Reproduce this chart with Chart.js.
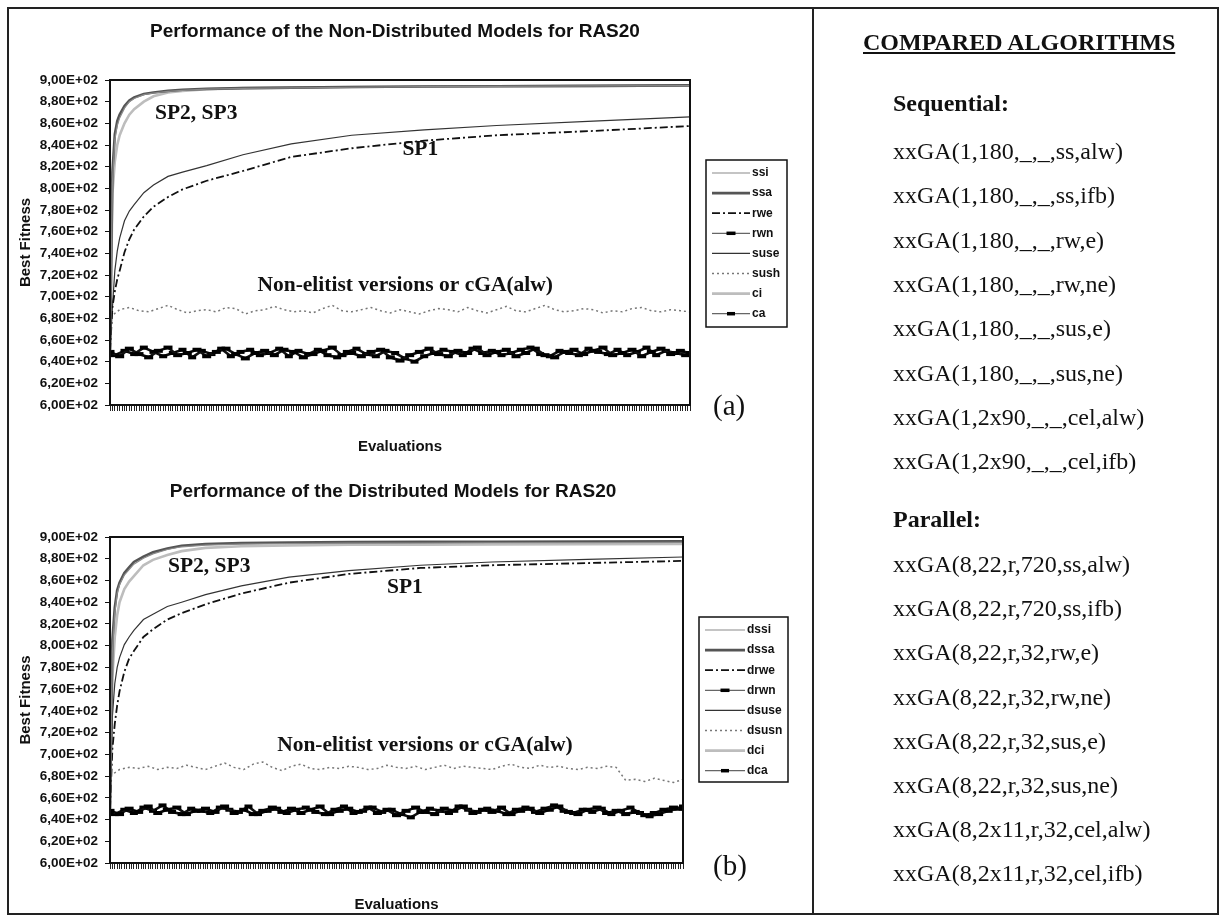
<!DOCTYPE html>
<html>
<head>
<meta charset="utf-8">
<title>RAS20 performance</title>
<script src="https://cdn.jsdelivr.net/npm/chart.js@4.4.1/dist/chart.umd.min.js"></script>
<style>
  html, body { margin: 0; padding: 0; background: #fff; }
  #page { position: relative; width: 1225px; height: 920px; overflow: hidden; }
  canvas { position: absolute; left: 0; }
  #chartA { top: 0; }
  #chartB { top: 460px; }
  #frame { position: absolute; left: 7px; top: 7px; width: 1212px; height: 908px; border: 2px solid #222; box-sizing: border-box; }
  #divider { position: absolute; left: 812px; top: 7px; width: 2px; height: 908px; background: #222; }
  .side { position: absolute; left: 893px; font-family: "Liberation Serif", "Times New Roman", serif; font-size: 24px; line-height: 24px; color: #111; white-space: nowrap; }
  .side.head { left: 863px; font-weight: bold; text-decoration: underline; }
  .side.group { font-weight: bold; }
</style>
</head>
<body>
<div id="page">
  <canvas id="chartA" width="812" height="460"></canvas>
  <canvas id="chartB" width="812" height="460"></canvas>
  <div id="frame"></div>
  <div id="divider"></div>
  <div id="side"></div>
</div>
<script>
// evaluation positions (x index) of the sampled points
const evalSmooth = [0, 1, 2, 3, 4, 6, 8, 10, 14, 18, 24, 30, 40, 55, 75, 100, 130, 160, 200, 240];
const evalNoisy = [0, 4, 8, 12, 16, 20, 24, 28, 32, 36, 40, 44, 48, 52, 56, 60, 64, 68, 72, 76,
  80, 84, 88, 92, 96, 100, 104, 108, 112, 116, 120, 124, 128, 132, 136, 140, 144, 148, 152, 156,
  160, 164, 168, 172, 176, 180, 184, 188, 192, 196, 200, 204, 208, 212, 216, 220, 224, 228, 232, 236, 240];
// cellular runs were sampled in between
const evalShift = [2, 6, 10, 14, 18, 22, 26, 30, 34, 38, 42, 46, 50, 54, 58, 62, 66, 70, 74, 78,
  82, 86, 90, 94, 98, 102, 106, 110, 114, 118, 122, 126, 130, 134, 138, 142, 146, 150, 154, 158,
  162, 166, 170, 174, 178, 182, 186, 190, 194, 198, 202, 206, 210, 214, 218, 222, 226, 230, 234, 238, 240];

// (a) non-distributed models
const ssi  = [650, 805, 845, 858, 865, 874, 880, 883, 886.5, 888, 889.5, 890.5, 891.5, 892.3, 892.8, 893.3, 893.8, 894.1, 894.5, 894.8];
const ssa  = [650, 815, 850, 862, 868, 876, 881, 884, 887, 888.5, 890, 891, 891.8, 892.5, 893, 893.5, 894, 894.3, 894.6, 895];
const rwe  = [650, 690, 705, 716, 724, 741, 753, 762, 774, 783, 792, 799, 807, 816, 829, 837, 844, 849, 853, 857.5];
const suse = [650, 690, 724, 742, 754, 770, 779, 785, 796, 803, 811, 815, 821, 831, 841, 849, 854, 858, 862, 866];
const ci   = [650, 795, 825, 840, 849, 860, 868, 873, 880, 885, 888.5, 890, 891.5, 892.5, 893, 893.5, 894, 894.3, 894.6, 895];
const rwn = [649, 645, 652, 647, 644, 650, 653, 646, 648, 651,
  645, 649, 652, 647, 643, 648, 650, 646, 651, 649,
  644, 647, 650, 653, 646, 648, 645, 649, 651, 644,
  641, 646, 649, 652, 647, 645, 650, 648, 653, 646,
  649, 651, 645, 648, 652, 646, 644, 649, 651, 647,
  650, 653, 646, 648, 651, 645, 649, 652, 647, 650, 648];
const ca = [646, 650, 647, 653, 649, 645, 648, 651, 644, 650,
  647, 652, 645, 649, 651, 646, 648, 652, 645, 650,
  647, 651, 646, 644, 649, 652, 647, 645, 650, 648,
  643, 640, 645, 648, 651, 649, 646, 652, 648, 650,
  646, 648, 651, 653, 647, 645, 650, 648, 646, 652,
  649, 647, 651, 646, 649, 653, 646, 650, 648, 646, 647];
const sush = [681, 688, 690, 687, 686, 689, 692, 688, 685, 687,
  688, 686, 690, 689, 684, 687, 688, 691, 688, 686,
  687, 685, 689, 692, 687, 686, 688, 690, 687, 685,
  688, 686, 684, 687, 689, 688, 686, 690, 687, 685,
  688, 691, 687, 686, 689, 692, 688, 686, 687, 689,
  688, 685, 687, 686, 689, 690, 687, 686, 688, 687, 686];

// (b) distributed models
const dssi  = [650, 795, 830, 848, 856, 865, 870, 875, 880.5, 884.5, 888.5, 891, 892.5, 893.5, 894, 894.3, 894.5, 894.7, 894.9, 895];
const dssa  = [650, 805, 835, 851, 858, 867, 872, 877, 882, 886, 889.5, 892, 893.5, 894.5, 895, 895.3, 895.5, 895.6, 895.8, 896];
const drwe  = [650, 705, 728, 745, 758, 776, 788, 795, 808, 815, 824, 830, 838, 848, 858, 866, 871.5, 874, 876, 878];
const dsuse = [650, 735, 765, 780, 789, 801, 808, 814, 824, 829, 836, 840, 847, 855, 863, 869, 874, 877, 879.5, 881.6];
const dci   = [650, 770, 808, 828, 840, 852, 859, 864, 874, 879, 883.5, 887, 890, 891.5, 892.3, 892.8, 893, 893.2, 893.4, 893.5];
const drwn = [648, 645, 650, 647, 652, 646, 649, 651, 645, 648,
  650, 647, 652, 646, 649, 645, 648, 651, 647, 650,
  646, 649, 652, 645, 648, 650, 647, 651, 646, 649,
  644, 648, 651, 647, 645, 650, 648, 652, 646, 649,
  647, 651, 645, 648, 650, 646, 649, 652, 647, 645,
  649, 651, 646, 648, 645, 647, 644, 646, 649, 651, 650];
const dca = [645, 649, 646, 651, 648, 653, 647, 645, 650, 648,
  646, 651, 649, 647, 652, 645, 648, 650, 646, 649,
  651, 647, 645, 649, 652, 646, 648, 651, 647, 649,
  645, 642, 647, 650, 648, 646, 652, 649, 647, 650,
  648, 645, 649, 651, 647, 650, 653, 648, 646, 649,
  647, 650, 645, 648, 651, 646, 643, 645, 648, 650, 652];
const dsusn = [680, 686, 688, 687, 689, 686, 688, 687, 690, 688,
  686, 689, 692, 688, 686, 691, 693, 688, 685, 689,
  691, 687, 686, 688, 687, 689, 688, 686, 687, 690,
  688, 687, 689, 686, 688, 690, 687, 689, 688, 687,
  686, 689, 691, 688, 687, 690, 688, 689, 687, 686,
  688, 687, 689, 688, 676, 677, 675, 678, 676, 674, 677];

const seqAlgs = ["xxGA(1,180,_,_,ss,alw)", "xxGA(1,180,_,_,ss,ifb)", "xxGA(1,180,_,_,rw,e)", "xxGA(1,180,_,_,rw,ne)",
  "xxGA(1,180,_,_,sus,e)", "xxGA(1,180,_,_,sus,ne)", "xxGA(1,2x90,_,_,cel,alw)", "xxGA(1,2x90,_,_,cel,ifb)"];
const parAlgs = ["xxGA(8,22,r,720,ss,alw)", "xxGA(8,22,r,720,ss,ifb)", "xxGA(8,22,r,32,rw,e)", "xxGA(8,22,r,32,rw,ne)",
  "xxGA(8,22,r,32,sus,e)", "xxGA(8,22,r,32,sus,ne)", "xxGA(8,2x11,r,32,cel,alw)", "xxGA(8,2x11,r,32,cel,ifb)"];

const SANS = '"Liberation Sans", Arial, sans-serif';
const SERIF = '"Liberation Serif", "Times New Roman", serif';

// line looks shared by both panels
const looks = {
  si:   { borderColor: "#8a8a8a", borderWidth: 1.2 },
  sa:   { borderColor: "#555", borderWidth: 2.6 },
  rwe:  { borderColor: "#111", borderWidth: 1.8, borderDash: [8, 3, 2, 3] },
  rwn:  { borderColor: "#111", borderWidth: 2.6, pointStyle: "line", pointRadius: 4.5, pointBorderWidth: 4, pointBorderColor: "#000" },
  suse: { borderColor: "#333", borderWidth: 1.2 },
  susn: { borderColor: "#777", borderWidth: 1.5, borderDash: [2, 3] },
  ci:   { borderColor: "#bdbdbd", borderWidth: 2.6 },
  ca:   { borderColor: "#111", borderWidth: 2.6, pointStyle: "line", pointRadius: 4, pointBorderWidth: 4, pointBorderColor: "#000" }
};

function series(label, xs, ys, look) {
  return Object.assign({
    label,
    data: xs.map((x, i) => ({ x, y: ys[i] })),
    pointRadius: 0,
    tension: 0,
    fill: false
  }, look);
}

const fmtSci = v => (v / 100).toFixed(2).replace(".", ",") + "E+02";

// title, notes, panel letter, legend box and the plot frame
const decoPlugin = {
  id: "deco",
  afterDraw(chart, args, o) {
    const { ctx, chartArea: a, scales: { x, y } } = chart;
    ctx.save();
    ctx.strokeStyle = "#111";
    ctx.lineWidth = 2;
    ctx.strokeRect(a.left, a.top, a.right - a.left, a.bottom - a.top);

    ctx.fillStyle = "#111";
    ctx.textBaseline = "middle";
    ctx.textAlign = "center";
    ctx.font = `bold 19px ${SANS}`;
    ctx.fillText(o.title, o.titleX, o.titleY);

    ctx.textAlign = "left";
    ctx.font = `bold 21.5px ${SERIF}`;
    o.notes.forEach(n => ctx.fillText(n.text, x.getPixelForValue(n.x), y.getPixelForValue(n.y)));

    ctx.font = `29px ${SERIF}`;
    ctx.fillText(o.letter, o.letterX, o.letterY);

    // legend
    const L = o.legend;
    ctx.lineWidth = 1.5;
    ctx.strokeStyle = "#111";
    ctx.strokeRect(L.x, L.y, L.w, L.h);
    ctx.font = `bold 12px ${SANS}`;
    chart.data.datasets.forEach((ds, i) => {
      const ry = L.row0 + i * L.gap;
      const marked = ds.pointStyle === "line";
      ctx.save();
      ctx.strokeStyle = marked ? "#666" : ds.borderColor;
      ctx.lineWidth = marked ? 1.2 : ds.borderWidth;
      ctx.setLineDash(ds.borderDash || []);
      ctx.beginPath();
      ctx.moveTo(L.x0, ry);
      ctx.lineTo(L.x1, ry);
      ctx.stroke();
      if (marked) {
        const mid = (L.x0 + L.x1) / 2;
        ctx.setLineDash([]);
        ctx.strokeStyle = ds.pointBorderColor;
        ctx.lineWidth = 3.5;
        ctx.beginPath();
        ctx.moveTo(mid - ds.pointRadius, ry);
        ctx.lineTo(mid + ds.pointRadius, ry);
        ctx.stroke();
      }
      ctx.restore();
      ctx.fillText(ds.label, L.x1 + 2, ry);
    });
    ctx.restore();
  }
};

function makeChart(id, datasets, deco, geo) {
  return new Chart(document.getElementById(id), {
    type: "line",
    data: { datasets },
    options: {
      responsive: false,
      animation: false,
      events: [],
      layout: { padding: geo.padding },
      plugins: { legend: { display: false }, tooltip: { enabled: false }, deco },
      scales: {
        x: {
          type: "linear", min: 0, max: 240,
          afterFit: s => { s.height = geo.xHeight; },
          ticks: { display: false, stepSize: 1 },
          grid: { drawOnChartArea: false, color: "#222", tickLength: 6, lineWidth: 1 },
          border: { color: "#111", width: 2 },
          title: { display: true, text: "Evaluations", color: "#111",
                   font: { family: SANS, size: 15, weight: "bold" }, padding: { top: 0, bottom: geo.xTitlePad } }
        },
        y: {
          min: 600, max: 900,
          afterFit: s => { s.width = 100; },
          ticks: { stepSize: 20, padding: 7, color: "#111", font: { family: SANS, size: 13.5, weight: "bold" }, callback: fmtSci },
          grid: { drawOnChartArea: false, color: "#111", tickLength: 5 },
          border: { color: "#111", width: 2 },
          title: { display: true, text: "Best Fitness", color: "#111",
                   font: { family: SANS, size: 15, weight: "bold" }, padding: { top: 7, bottom: 0 } }
        }
      }
    },
    plugins: [decoPlugin]
  });
}

makeChart("chartA", [
  series("ssi", evalSmooth, ssi, looks.si),
  series("ssa", evalSmooth, ssa, looks.sa),
  series("rwe", evalSmooth, rwe, looks.rwe),
  series("rwn", evalNoisy, rwn, looks.rwn),
  series("suse", evalSmooth, suse, looks.suse),
  series("sush", evalNoisy, sush, looks.susn),
  series("ci", evalSmooth, ci, looks.ci),
  series("ca", evalShift, ca, looks.ca)
], {
  title: "Performance of the Non-Distributed Models for RAS20", titleX: 395, titleY: 32,
  notes: [
    { text: "SP2, SP3", x: 18.6, y: 869.5 },
    { text: "SP1", x: 121, y: 835.5 },
    { text: "Non-elitist versions or cGA(alw)", x: 61, y: 710 }
  ],
  letter: "(a)", letterX: 713, letterY: 407,
  legend: { x: 706, y: 160, w: 81, h: 167, row0: 173, gap: 20.1, x0: 712, x1: 750 }
}, { padding: { left: 10, top: 80, right: 122, bottom: 0 }, xHeight: 55, xTitlePad: 4 });

makeChart("chartB", [
  series("dssi", evalSmooth, dssi, looks.si),
  series("dssa", evalSmooth, dssa, looks.sa),
  series("drwe", evalSmooth, drwe, looks.rwe),
  series("drwn", evalNoisy, drwn, looks.rwn),
  series("dsuse", evalSmooth, dsuse, looks.suse),
  series("dsusn", evalNoisy, dsusn, looks.susn),
  series("dci", evalSmooth, dci, looks.ci),
  series("dca", evalShift, dca, looks.ca)
], {
  title: "Performance of the Distributed Models for RAS20", titleX: 393, titleY: 32,
  notes: [
    { text: "SP2, SP3", x: 24.3, y: 873 },
    { text: "SP1", x: 116, y: 854 },
    { text: "Non-elitist versions or cGA(alw)", x: 70, y: 708.5 }
  ],
  letter: "(b)", letterX: 713, letterY: 407,
  legend: { x: 699, y: 157, w: 89, h: 165, row0: 170, gap: 20.1, x0: 705, x1: 745 }
}, { padding: { left: 10, top: 77, right: 129, bottom: 0 }, xHeight: 57, xTitlePad: 6 });

// algorithm list on the right
const side = document.getElementById("side");
function addText(text, top, cls) {
  const d = document.createElement("div");
  d.className = "side " + cls;
  d.style.top = top + "px";
  d.textContent = text;
  side.appendChild(d);
}
addText("COMPARED ALGORITHMS", 30, "head");
addText("Sequential:", 91, "group");
seqAlgs.forEach((t, i) => addText(t, 139 + i * 44.3, ""));
addText("Parallel:", 507, "group");
parAlgs.forEach((t, i) => addText(t, 552 + i * 44.2, ""));
</script>
</body>
</html>
